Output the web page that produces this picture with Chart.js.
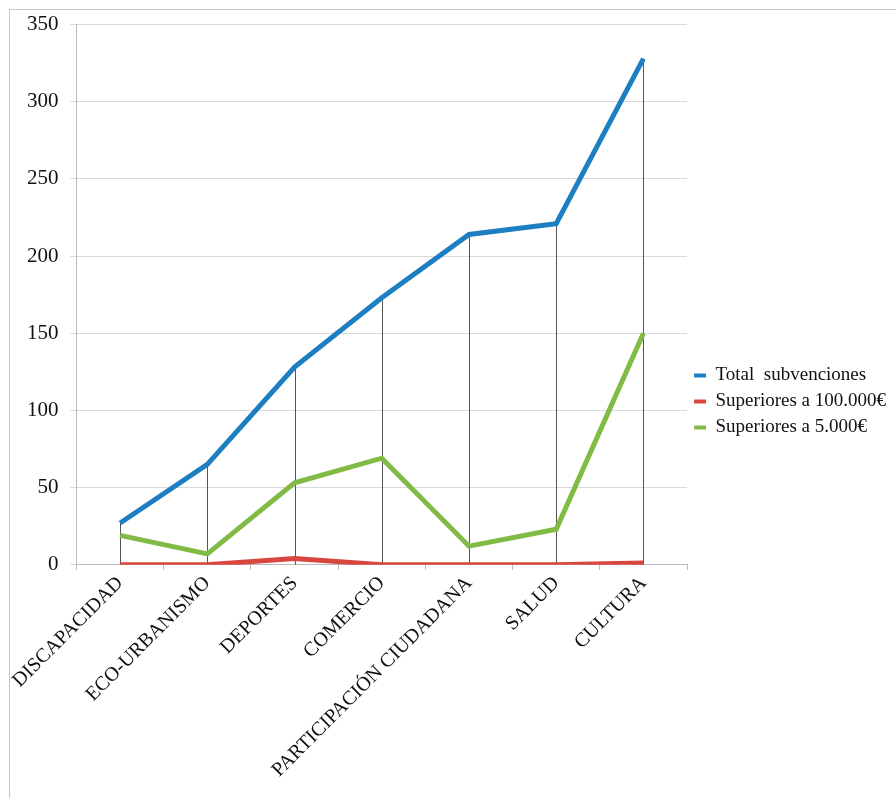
<!DOCTYPE html>
<html>
<head>
<meta charset="utf-8">
<script src="https://cdn.jsdelivr.net/npm/chart.js@4"></script>
<style>
  html, body { margin: 0; padding: 0; background: #fff; }
  #wrap { position: relative; width: 896px; height: 798px; }
  #frame { position: absolute; left: 9px; top: 9px; right: 0; bottom: 0; border-top: 1px solid #c6c6c6; border-left: 1px solid #c6c6c6; }
  canvas { position: absolute; left: 0; top: 0; }
</style>
</head>
<body>
<div id="wrap">
  <div id="frame"></div>
  <canvas id="chart" width="896" height="798"></canvas>
</div>
<script>
const categories = ["DISCAPACIDAD", "ECO-URBANISMO", "DEPORTES", "COMERCIO", "PARTICIPACIÓN CIUDADANA", "SALUD", "CULTURA"];
const total = [27, 65, 128, 173, 214, 221, 328];
const over100k = [0, 0, 4, 0, 0, 0, 1];
const over5k = [19, 7, 53, 69, 12, 23, 150];

// vertical drop lines from the highest point of each category down to the axis
const dropLines = {
  id: "dropLines",
  beforeDatasetsDraw(chart) {
    const { ctx, scales: { x, y } } = chart;
    ctx.save();
    ctx.strokeStyle = "#555";
    ctx.lineWidth = 1;
    categories.forEach((c, i) => {
      const top = Math.max(total[i], over100k[i], over5k[i]);
      const px = Math.round(x.getPixelForValue(i)) + 0.5;
      ctx.beginPath();
      ctx.moveTo(px, y.getPixelForValue(top));
      ctx.lineTo(px, y.getPixelForValue(0));
      ctx.stroke();
    });
    ctx.restore();
  }
};

const serif = "'Liberation Serif', 'Times New Roman', serif";

new Chart(document.getElementById("chart"), {
  type: "line",
  data: {
    labels: categories,
    datasets: [
      { label: "Total  subvenciones", data: total, borderColor: "#1d7fc1", backgroundColor: "#1d7fc1", order: 3 },
      { label: "Superiores a 100.000€", data: over100k, borderColor: "#d9453f", backgroundColor: "#d9453f", order: 1 },
      { label: "Superiores a 5.000€", data: over5k, borderColor: "#82ba46", backgroundColor: "#82ba46", order: 2 }
    ]
  },
  options: {
    responsive: false,
    animation: false,
    elements: {
      line: { borderWidth: 5, tension: 0 },
      point: { radius: 0, hoverRadius: 0 }
    },
    layout: { padding: { top: 19, left: 15, right: 0, bottom: 14 } },
    plugins: {
      tooltip: { enabled: false },
      legend: {
        position: "right",
        labels: {
          color: "#111",
          font: { family: serif, size: 19 },
          boxWidth: 12,
          boxHeight: 4,
          padding: 7,
          sort: (a, b) => a.datasetIndex - b.datasetIndex,
          generateLabels(chart) {
            return Chart.defaults.plugins.legend.labels.generateLabels(chart)
              .map(item => ({ ...item, lineWidth: 0, strokeStyle: "rgba(0,0,0,0)" }));
          }
        }
      }
    },
    scales: {
      x: {
        offset: true,
        grid: { display: true, drawOnChartArea: false, color: "#bbb", tickLength: 5, offset: true },
        border: { color: "#bbb" },
        ticks: { color: "#111", font: { family: serif, size: 20 }, maxRotation: 45, minRotation: 45, padding: 2 }
      },
      y: {
        min: 0,
        max: 350,
        grid: { color: "#d9d9d9", tickLength: 6 },
        border: { color: "#bbb" },
        ticks: { stepSize: 50, color: "#111", font: { family: serif, size: 21 }, padding: 12 }
      }
    }
  },
  plugins: [dropLines]
});
</script>
</body>
</html>
